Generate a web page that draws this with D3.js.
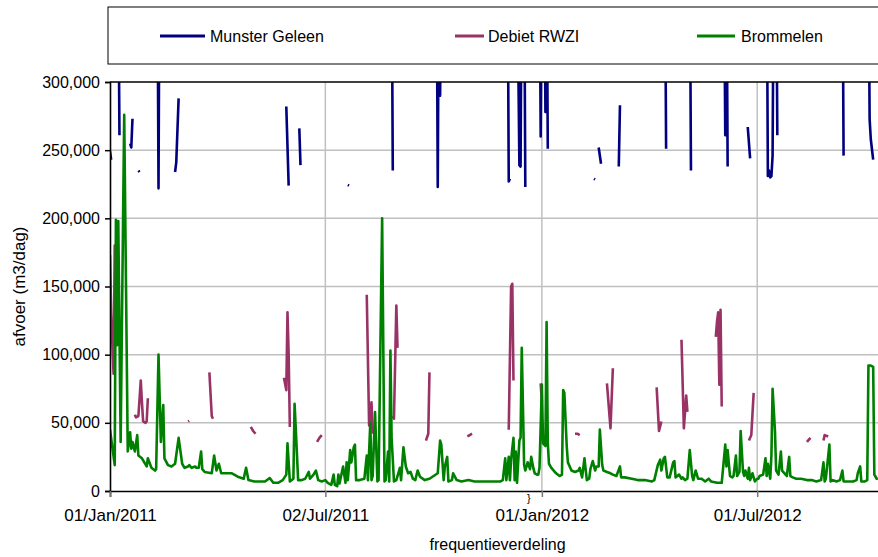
<!DOCTYPE html>
<html>
<head>
<meta charset="utf-8">
<script src="https://cdn.jsdelivr.net/npm/d3@7"></script>
<style>
  html, body { margin: 0; padding: 0; background: #fff; }
  svg { display: block; font-family: "Liberation Sans", Arial, sans-serif; }
</style>
</head>
<body>
<svg id="chart" width="878" height="557"></svg>
<script>
// ---------------- DATA ----------------
const startDate = "2011-01-01";
const seriesNames = ["Munster Geleen", "Debiet RWZI", "Brommelen"];
const seriesColors = ["#000080", "#993366", "#008000"];

const yTickValues = [0, 50000, 100000, 150000, 200000, 250000, 300000];
const xTickDates = ["2011-01-01", "2011-07-02", "2012-01-01", "2012-07-01"];

// [day offset from startDate, m3/dag]; null separates gaps
const munsterGeleen = [
  [0,249000],[1,243000],null,
  [7,380000],[8,261000],null,
  [17,255000],[18,252000],[19,273000],null,
  [24,235000],[25,234000],null,
  [40,400000],[41,222000],[42,420000],[43,330000],[44,410000],null,
  [55,234000],[56,241000],[58,288000],null,
  [149,282000],[151,224000],null,
  [160,266000],[161,239000],null,
  [201,224500],[202,224000],null,
  [238,400000],[239,235000],null,
  [276,400000],[277,223000],[278,400000],[279,290000],[280,400000],null,
  [336,400000],[337,227000],[338,229000],null,
  [344,400000],[346,239000],[347,238000],[348,400000],[350,400000],[351,223000],null,
  [363,400000],[364,260000],[365,400000],[366,380000],[367,400000],[368,278000],[369,400000],[370,251000],null,
  [409,229000],[410,228500],null,
  [413,252000],[415,240000],null,
  [430,238000],[431,283000],null,
  [469,400000],[470,251000],null,
  [490,400000],[491,235000],null,
  [518,400000],[519,380000],[520,261000],[521,400000],[522,238000],null,
  [539,267000],[541,244000],null,
  [555,400000],[556,231000],[557,235000],[558,230000],[559,231000],[560,246000],[561,400000],[562,350000],[563,400000],[564,261000],null,
  [619,400000],[620,246000],null,
  [641,400000],[642,273000],[643,258000],[645,243000]
];

const debietRWZI = [
  [0,173000],[1,130000],[3,86000],[4,180000],[5,120000],null,
  [21,56000],[22,54000],[24,55000],[26,81000],[27,65000],[28,51000],[30,50000],[31,51000],[32,68000],null,
  [66,51000],[67,51500],null,
  [84,87000],[86,55000],[87,53000],null,
  [119,47000],[121,44000],[123,42000],null,
  [147,83000],[149,74000],[150,131000],[151,100000],[152,47000],null,
  [175,36000],[177,39000],[179,41000],null,
  [217,144000],[219,48000],[221,65000],[222,42000],null,
  [239,55000],[240,53000],[242,136000],[243,105000],null,
  [267,37000],[269,42000],[270,87000],null,
  [302,40000],[304,41000],[306,42000],null,
  [337,45000],[339,150000],[340,152000],[341,81000],null,
  [364,79000],[365,65000],null,
  [393,42000],[395,42000],[397,41000],null,
  [420,79000],[423,46000],[425,90000],null,
  [462,76000],[464,44000],[466,51000],null,
  [483,111000],[485,46000],[487,70000],[488,58000],null,
  [512,113000],[513,124000],[514,131000],[515,78000],[516,133000],[517,62000],null,
  [540,37000],[542,41000],[544,72000],null,
  [589,36000],[592,39000],null,
  [603,37000],[604,41000],[607,40000]
];

const brommelen = [
  [0,45000],[4,19000],[5,199000],[6,107000],[7,198000],[9,36000],[12,276000],[15,29000],
  [17,43000],[18,31000],[19,36000],[21,29000],[23,41000],[24,26000],[27,24000],[31,18000],
  [32,24000],[35,17000],[38,15000],[39,16000],[41,100000],[43,36000],[45,63000],[46,24000],
  [49,19000],[52,18000],[55,20000],[58,39000],[61,20000],[63,17000],[66,18000],[67,19000],
  [69,17000],[72,18000],[73,17000],[75,17000],[77,29000],[78,16000],[80,14000],[86,13000],
  [88,26000],[90,15000],[92,20000],[94,13000],[99,13000],[103,13000],[108,10500],[113,9000],
  [115,17000],[117,8000],[122,7000],[131,7000],[135,9500],[138,6000],[142,6000],[146,8000],
  [149,12000],[150,35000],[152,7000],[155,9000],[156,64000],[157,46000],[159,8000],[162,8000],
  [165,9000],[168,14000],[169,9000],[172,12000],[174,15000],[176,8000],[179,7000],[182,8000],
  [184,6000],[187,4500],[189,12000],[190,4500],[192,3500],[193,12000],[194,5500],[197,18000],
  [199,6000],[200,21000],[201,8000],[203,30000],[204,21000],[206,32000],[207,34000],[208,8000],
  [211,8000],[215,9000],[217,26000],[218,8000],[220,50000],[221,8000],[222,11000],[224,58000],
  [226,7000],[227,8000],[230,200000],[232,7000],[233,8000],[235,29000],[236,7000],[237,103000],
  [238,39000],[240,7000],[242,8000],[245,17000],[246,8000],[248,32000],[250,18000],[252,13000],
  [254,14000],[256,9000],[258,8000],[260,15000],[262,10500],[266,8000],[270,9000],[277,13000],
  [279,37000],[280,34000],[282,8000],[283,18000],[285,25000],[286,7000],[289,8000],[290,13000],
  [293,8000],[297,7000],[303,8000],[308,7000],[314,7000],[320,7000],[325,7000],[330,7000],
  [332,8000],[334,24000],[335,8000],[337,25000],[338,8000],[339,23000],[341,39000],[342,8000],
  [343,29000],[344,6000],[346,37000],[347,39000],[348,105000],[350,19000],[351,15000],[353,21000],
  [355,16000],[356,25000],[358,16000],[359,13000],[361,12000],[362,12000],[363,17000],[365,78000],
  [366,35000],[368,33000],[369,124000],[370,35000],[371,20000],[373,17000],[375,15000],[377,13000],
  [380,11000],[382,12000],[383,74000],[384,72000],[386,33000],[387,21000],[390,15000],[393,14000],
  [396,15000],[397,17000],[399,10000],[401,24000],[403,8000],[405,9000],[406,16000],[408,22000],
  [410,15000],[411,18000],[413,18000],[414,45000],[416,19000],[417,15000],[420,14000],[423,13000],
  [425,12000],[428,11000],[431,18000],[432,10000],[435,10000],[441,9000],[446,8000],[452,8000],
  [458,7000],[460,8000],[463,19000],[465,23000],[466,15000],[468,24000],[469,25000],[471,10000],
  [473,10000],[476,21000],[477,22000],[478,10000],[481,12000],[483,9000],[484,10000],[486,8000],
  [488,9000],[490,30000],[492,11000],[493,8000],[495,15000],[497,9000],[500,9000],[503,7000],
  [506,9000],[508,7000],[513,6000],[517,6000],[520,34000],[521,18000],[522,30000],[524,11000],
  [526,10000],[527,11000],[529,26000],[530,11000],[532,14000],[533,44000],[535,14000],[536,11000],
  [537,15000],[539,9000],[540,17000],[541,8000],[543,13000],[545,7000],[547,9000],[548,9000],
  [549,11000],[552,12000],[554,24000],[555,11000],[556,20000],[558,9000],[559,26000],[560,75000],
  [562,44000],[563,15000],[565,12000],[567,29000],[568,15000],[571,12000],[572,11000],[574,25000],
  [575,11000],[577,10000],[580,9000],[584,9000],[589,8000],[593,8000],[597,7000],[601,8000],
  [603,21000],[604,7000],[605,9000],[608,34000],[609,7000],[611,8000],[614,7000],[617,8000],
  [619,15000],[620,7000],[624,7000],[628,7000],[631,8000],[632,13000],[634,18000],[635,7000],
  [638,7000],[640,8000],[641,92000],[643,92000],[645,91000],[646,12000],[648,9000],[649,9000]
];

const xAxisTitle = "frequentieverdeling";
const yAxisTitle = "afvoer (m3/dag)";
const domainDays = 655;

// ---------------- CHART ----------------
const svg = d3.select("#chart");
const margin = { left: 110, top: 82, right: 885, bottom: 491 };

const parse = d3.utcParse("%Y-%m-%d");
const t0 = parse(startDate);
const dayToDate = d => d3.utcDay.offset(t0, d);

const x = d3.scaleUtc()
  .domain([t0, dayToDate(domainDays)])
  .range([margin.left, margin.right]);
const y = d3.scaleLinear()
  .domain([0, 300000])
  .range([margin.bottom, margin.top]);

// legend box
svg.append("rect")
  .attr("x", 108).attr("y", 7)
  .attr("width", 790).attr("height", 57)
  .attr("fill", "#fff").attr("stroke", "#000").attr("stroke-width", 1);

const legendX = [160, 455, 697];
seriesNames.forEach((name, i) => {
  const g = svg.append("g").attr("transform", `translate(${legendX[i]},36)`);
  g.append("line").attr("x1", 0).attr("x2", i === 2 ? 38 : (i === 1 ? 29 : 45))
    .attr("y1", 0).attr("y2", 0)
    .attr("stroke", seriesColors[i]).attr("stroke-width", 3);
  g.append("text").attr("x", i === 2 ? 44 : (i === 1 ? 33 : 50)).attr("y", 6)
    .attr("font-size", 16).attr("fill", "#000").text(name);
});

// grid lines
svg.append("g")
  .selectAll("line.hg")
  .data(yTickValues.filter(v => v > 0 && v < 300000))
  .join("line")
  .attr("x1", margin.left).attr("x2", margin.right)
  .attr("y1", d => y(d)).attr("y2", d => y(d))
  .attr("stroke", "#c0c0c0").attr("stroke-width", 1.5);

svg.append("g")
  .selectAll("line.vg")
  .data(xTickDates.slice(1).map(parse))
  .join("line")
  .attr("x1", d => x(d)).attr("x2", d => x(d))
  .attr("y1", margin.top).attr("y2", margin.bottom)
  .attr("stroke", "#c0c0c0").attr("stroke-width", 1.5);

// clip
svg.append("clipPath").attr("id", "plotclip")
  .append("rect")
  .attr("x", margin.left).attr("y", margin.top)
  .attr("width", margin.right - margin.left)
  .attr("height", margin.bottom - margin.top);

const line = d3.line()
  .defined(d => d !== null)
  .x(d => x(dayToDate(d[0])))
  .y(d => y(d[1]));

const plot = svg.append("g").attr("clip-path", "url(#plotclip)");
[munsterGeleen, debietRWZI, brommelen].forEach((data, i) => {
  plot.append("path")
    .datum(data)
    .attr("fill", "none")
    .attr("stroke", seriesColors[i])
    .attr("stroke-width", 2.6)
    .attr("stroke-linejoin", "round")
    .attr("d", line);
});

// axes
const yAxis = d3.axisLeft(y)
  .tickValues(yTickValues)
  .tickFormat(d3.format(","))
  .tickSize(5).tickPadding(5);
const gy = svg.append("g").attr("transform", `translate(${margin.left},0)`).call(yAxis);
gy.select(".domain").attr("stroke", "#000").attr("stroke-width", 1.6);
gy.selectAll(".tick line").attr("stroke", "#000").attr("stroke-width", 1.5);
gy.selectAll(".tick text").attr("font-size", 16).attr("font-family", "Liberation Sans, Arial, sans-serif").attr("fill", "#000");

const xAxis = d3.axisBottom(x)
  .tickValues(xTickDates.map(parse))
  .tickFormat(d3.utcFormat("%d/%b/%Y"))
  .tickSize(6).tickPadding(12);
const gx = svg.append("g").attr("transform", `translate(0,${margin.bottom})`).call(xAxis);
gx.select(".domain").attr("stroke", "#000").attr("stroke-width", 1.6);
gx.selectAll(".tick line").attr("stroke", "#777").attr("stroke-width", 1.5);
gx.selectAll(".tick text").attr("font-size", 17).attr("font-family", "Liberation Sans, Arial, sans-serif").attr("fill", "#000");

// top border of plot area
svg.append("line")
  .attr("x1", margin.left).attr("x2", margin.right)
  .attr("y1", margin.top).attr("y2", margin.top)
  .attr("stroke", "#000").attr("stroke-width", 1.6);

// small bracket mark on x axis
svg.append("text")
  .attr("x", x(dayToDate(354))).attr("y", 502)
  .attr("font-size", 11).attr("text-anchor", "middle").attr("fill", "#000")
  .text("}");

// titles
svg.append("text")
  .attr("x", (margin.left + margin.right) / 2).attr("y", 550)
  .attr("text-anchor", "middle").attr("font-size", 16).attr("fill", "#000")
  .text(xAxisTitle);
svg.append("text")
  .attr("transform", `translate(25,${(margin.top + margin.bottom) / 2}) rotate(-90)`)
  .attr("text-anchor", "middle").attr("font-size", 17).attr("fill", "#000")
  .text(yAxisTitle);
</script>
</body>
</html>
